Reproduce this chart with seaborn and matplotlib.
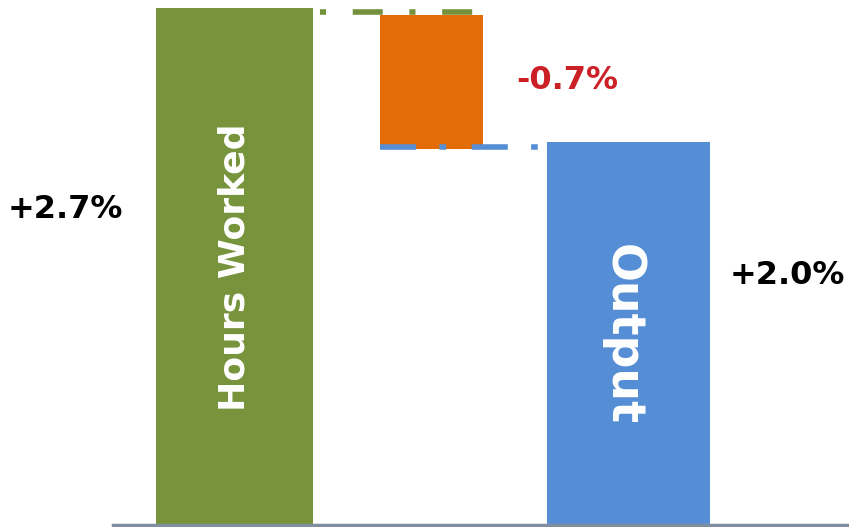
import matplotlib
matplotlib.use("Agg")
import matplotlib.pyplot as plt
import seaborn as sns
import pandas as pd

categories = ["Hours Worked", "Change", "Output"]
changes = [2.7, -0.7, 2.0]
value_labels = ["+2.7%", "-0.7%", "+2.0%"]
bar_labels = ["Hours Worked", "", "Output"]

green, orange, blue = "#77933C", "#E36C09", "#558ED5"

sns.set_theme(style="white")
plt.rcParams["font.family"] = ["DejaVu Sans"]

fig = plt.figure(figsize=(8.49, 5.27), dpi=100)
ax = fig.add_axes([113 / 849, 2 / 527, 1 - 113 / 849, 1 - 2 / 527])

# totals (green and blue) via seaborn
totals = [changes[0], 0.0, changes[0] + changes[1]]
df = pd.DataFrame({"cat": categories, "val": totals})
sns.barplot(data=df, x="cat", y="val", hue="cat",
            palette=[green, "white", blue], width=0.8,
            legend=False, ax=ax, saturation=1)
patches = ax.patches
patches[0].set_width(157 / 197)
patches[0].set_x(0 - 157 / 197 / 2)
patches[2].set_width(163 / 197)
patches[2].set_x(2 - 163 / 197 / 2)
for p in patches:
    p.set_linewidth(0)

# the step bar
ax.bar(1, changes[1], bottom=changes[0] - 0.035, width=103 / 197,
       color=orange, linewidth=0)

# connectors
ax.plot([0 + 157 / 197 / 2, 1 + 103 / 197 / 2], [changes[0] - 0.02] * 2,
        color="#73903A", lw=4, linestyle=(14.85, (1.1, 4.8, 5.4, 4.8)),
        zorder=1)
ax.plot([1 - 103 / 197 / 2, 2 - 163 / 197 / 2], [totals[2] - 0.025] * 2,
        color=blue, lw=4, linestyle=(0, (6.5, 4.2, 1.2, 4.6)), zorder=3)

ax.set_xlim((113 - 234.5) / 197, (849 - 234.5) / 197)
ax.set_ylim(0, 525 / 191.5)
ax.set_xlabel("")
ax.set_ylabel("")
ax.set_xticks([])
ax.set_yticks([])
for s in ["top", "right", "left"]:
    ax.spines[s].set_visible(False)
ax.spines["bottom"].set_color("#7F8F9F")
ax.spines["bottom"].set_linewidth(2.5)

# value labels
ax.text(-0.86, 1.645, value_labels[0], fontsize=23, fontweight="bold",
        color="black", ha="center", va="center", clip_on=False)
ax.text(1.69, 2.32, value_labels[1], fontsize=23, fontweight="bold",
        color="#CC2027", ha="center", va="center", clip_on=False)
ax.text(2.805, 1.305, value_labels[2], fontsize=23, fontweight="bold",
        color="black", ha="center", va="center", clip_on=False)

# in-bar labels
ax.text(0, (525 - 267) / 191.5, bar_labels[0], fontsize=26, fontweight="bold",
        color="white", rotation=90, ha="center", va="center")
ax.text((622 - 234.5) / 197, (525 - 335) / 191.5, bar_labels[2], fontsize=33,
        fontweight="bold", color="white", rotation=270, ha="center", va="center")

fig.savefig("out.png", dpi=100)
